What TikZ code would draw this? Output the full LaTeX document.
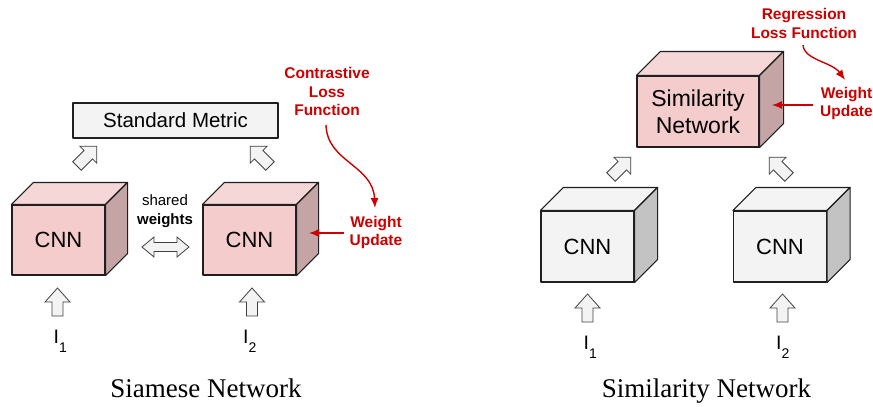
\documentclass[tikz,border=0pt]{standalone}
\usepackage{fontspec}
\newfontfamily\arialfont{Liberation Sans}
\newfontfamily\captionfont{Liberation Serif}
\usetikzlibrary{arrows.meta,calc}

\definecolor{pinkfront}{HTML}{F4CCCC}
\definecolor{pinktop}{HTML}{F6D7D8}
\definecolor{pinkside}{HTML}{C4A4A5}
\definecolor{grayfront}{HTML}{F3F3F3}
\definecolor{graytop}{HTML}{F4F4F4}
\definecolor{grayside}{HTML}{C3C3C3}
\definecolor{lossred}{HTML}{CC0000}
\definecolor{edge}{HTML}{1F1F1F}

% top and right faces of a box whose front face is node #1
\newcommand\cubesides[4]{%
  \filldraw[cubeedge, fill=#3] (#1.north west) -- ++(#2,-#2)
    -- ($(#1.north east)+(#2,-#2)$) -- (#1.north east) -- cycle;
  \filldraw[cubeedge, fill=#4] (#1.north east) -- ++(#2,-#2)
    -- ($(#1.south east)+(#2,-#2)$) -- (#1.south east) -- cycle;}

% input image label: I with a lowered index
\newcommand\inimg[1]{I\raisebox{-9pt}{\fontsize{14}{14}\selectfont #1}}

\begin{document}
\begin{tikzpicture}[x=1pt, y=-1pt,
  cubeedge/.style={draw=edge, line width=1.1pt, line join=round},
  face/.style={cubeedge, inner sep=0pt, align=center,
    font=\arialfont\fontsize{22}{27}\selectfont},
  pinkcnn/.style={face, fill=pinkfront, minimum width=93pt, minimum height=70pt},
  graycnn/.style={face, fill=grayfront, minimum width=93pt, minimum height=71pt},
  simbox/.style={face, fill=pinkfront, minimum width=122pt, minimum height=71pt,
    font=\arialfont\fontsize{23}{27}\selectfont},
  metricbox/.style={face, fill=grayfront, minimum width=205pt, minimum height=35pt,
    font=\arialfont\fontsize{20.5}{24}\selectfont},
  redlabel/.style={text=lossred, inner sep=0pt, align=center,
    font=\arialfont\bfseries\fontsize{15.5}{18.7}\selectfont},
  redarrow/.style={draw=lossred, line width=1.4pt, -{Latex[length=10pt,width=8pt]}},
  sharedlabel/.style={inner sep=0pt, align=center,
    font=\arialfont\fontsize{15}{19}\selectfont},
  inlabel/.style={inner sep=0pt, anchor=base west,
    font=\arialfont\fontsize{19.5}{22}\selectfont},
  caption/.style={inner sep=0pt, anchor=base, font=\captionfont\fontsize{27}{31}\selectfont},
  hollow/.style={fill=grayfront, draw=edge!85, line width=0.8pt, line join=miter},
  uparrow/.pic={\filldraw[hollow] (-5.5,0) -- (-5.5,-14) -- (-12.5,-14) -- (0,-28)
    -- (12.5,-14) -- (5.5,-14) -- (5.5,0) -- cycle;},
  diagarrow/.pic={\filldraw[hollow] (-6,0) -- (-6,-16) -- (-12,-16) -- (0,-28)
    -- (12,-16) -- (6,-16) -- (6,0) -- cycle;},
  bothways/.pic={\filldraw[hollow] (-23.5,0) -- (-11.5,-10) -- (-11.5,-4.5) -- (11.5,-4.5)
    -- (11.5,-10) -- (23.5,0) -- (11.5,10) -- (11.5,4.5) -- (-11.5,4.5) -- (-11.5,10) -- cycle;}
]
\useasboundingbox (0,0) rectangle (873,407);

% ---------------- Siamese network ----------------
\node[metricbox] (metric) at (175.5,120.5) {Standard Metric};

\node[pinkcnn] (cnnA) at (58.5,240) {CNN};
\cubesides{cnnA}{22}{pinktop}{pinkside}
\node[pinkcnn] (cnnB) at (249.5,240) {CNN};
\cubesides{cnnB}{22}{pinktop}{pinkside}

\pic[rotate=-45] at (77,166) {diagarrow};
\pic[rotate=45] at (270,166) {diagarrow};

\node[sharedlabel] (shared) at (165,211.5) {shared\\\textbf{weights}};
\pic at (165.5,247) {bothways};

\pic at (57.5,316) {uparrow};
\pic at (252,316) {uparrow};
\node[inlabel] (inA) at (53.5,343) {\inimg{1}};
\node[inlabel] (inB) at (243,343) {\inimg{2}};

\node[redlabel] (closs) at (327,91.5) {Contrastive\\Loss\\Function};
\node[redlabel] (cupd) at (376,232.5) {Weight\\Update};
\coordinate (cstart) at (326,125);
\coordinate (ctip) at (375,208);
\draw[redarrow] (cstart) .. controls (327,162) and (373,165) .. (ctip);
\coordinate (cside) at (309,233);
\draw[redarrow] (cupd.west |- cside) ++(-6,0) -- (cside);

\node[caption] (capA) at (206,397) {Siamese Network};

% ---------------- Similarity network ----------------
\node[simbox] (sim) at (698,111.5) {Similarity\\Network};
\cubesides{sim}{24}{pinktop}{pinkside}

\node[graycnn] (cnnC) at (587.5,246.5) {CNN};
\cubesides{cnnC}{23}{graytop}{grayside}
\node[graycnn] (cnnD) at (780,246.5) {CNN};
\cubesides{cnnD}{23}{graytop}{grayside}

\pic[rotate=-45] at (611,177) {diagarrow};
\pic[rotate=45] at (789,177) {diagarrow};

\pic at (587.5,322) {uparrow};
\pic at (782.5,322) {uparrow};
\node[inlabel] (inC) at (583.5,349) {\inimg{1}};
\node[inlabel] (inD) at (776,349) {\inimg{2}};

\node[redlabel] (rloss) at (804,23.5) {Regression\\Loss Function};
\node[redlabel, anchor=west] (rupd) at (820,103.5) {Weight\\Update};
\coordinate (rstart) at (803,45);
\coordinate (rtip) at (845,80);
\draw[redarrow] (rstart) .. controls (804,60) and (832,62) .. (rtip);
\coordinate (rside) at (772,105);
\draw[redarrow] (813,105) -- (rside);

\node[caption] (capB) at (706.5,397) {Similarity Network};
\end{tikzpicture}
\end{document}
